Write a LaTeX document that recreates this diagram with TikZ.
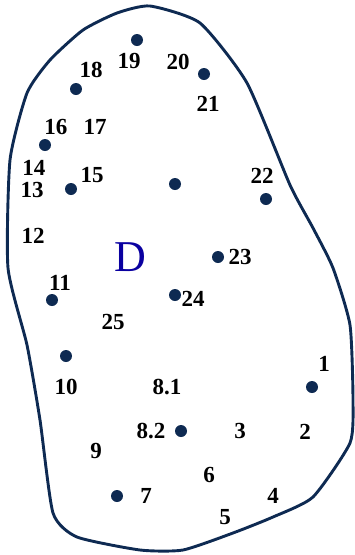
\documentclass[tikz,border=0pt]{standalone}
\usepackage{fontspec}
\setmainfont{Liberation Serif}
\definecolor{ink}{HTML}{0E2A52}
\definecolor{mark}{HTML}{0A00A0}
\begin{document}
\begin{tikzpicture}[
  x=1pt, y=-1pt,
  spot/.style={circle, fill=ink, inner sep=0pt, minimum size=12pt},
  num/.style={font=\fontsize{23}{23}\selectfont\bfseries, inner sep=0pt},
  area/.style={draw=ink, line width=2.9pt, line join=round}
]
\useasboundingbox (0,0) rectangle (355,555);
% outline
\draw[area] plot[smooth cycle, tension=0.35] coordinates {
  (150,6) (200,23) (247,83) (290,185) (313,228) (333,268) (350,325)
  (353,400) (350,443) (313,497) (273,517) (233,533) (183,550) (140,550)
  (77,537) (53,513) (40,420) (27,345) (8,268) (10,160) (27,93) (50,60)
  (83,30) (117,13)};
% dots
\node[spot] (p19) at (137,40) {};
\node[spot] (p21) at (204,74) {};
\node[spot] (p18) at (76,89) {};
\node[spot] (p16) at (45,145) {};
\node[spot] (p15) at (71,189) {};
\node[spot] (pc) at (175,184) {};
\node[spot] (p22) at (266,199) {};
\node[spot] (p23) at (218,257) {};
\node[spot] (p24) at (175,295) {};
\node[spot] (p11) at (52,300) {};
\node[spot] (p10) at (66,356) {};
\node[spot] (p1) at (312,387) {};
\node[spot] (p82) at (181,431) {};
\node[spot] (p7) at (117,496) {};
% labels
\node[num] (n19) at (129,61) {19};
\node[num] (n20) at (178,62) {20};
\node[num] (n21) at (208,104) {21};
\node[num] (n18) at (91,70) {18};
\node[num] (n16) at (56,127) {16};
\node[num] (n17) at (95,127) {17};
\node[num] (n14) at (34,168) {14};
\node[num] (n13) at (32,190) {13};
\node[num] (n15) at (92,175) {15};
\node[num] (n22) at (262,176) {22};
\node[num] (n12) at (33,236) {12};
\node[num] (n23) at (240,257) {23};
\node[num] (n11) at (60,283) {11};
\node[num] (n24) at (193,299) {24};
\node[num] (n25) at (113,322) {25};
\node[num] (n10) at (66,387) {10};
\node[num] (n81) at (167,387) {8.1};
\node[num] (n1) at (324,364) {1};
\node[num] (n82) at (151,431) {8.2};
\node[num] (n3) at (240,431) {3};
\node[num] (n2) at (305,432) {2};
\node[num] (n9) at (96,451) {9};
\node[num] (n6) at (209,475) {6};
\node[num] (n7) at (146,496) {7};
\node[num] (n4) at (273,496) {4};
\node[num] (n5) at (225,517) {5};
\node[font=\fontsize{44}{44}\selectfont, text=mark, inner sep=0pt] (dlab) at (130,257) {D};
\end{tikzpicture}
\end{document}
